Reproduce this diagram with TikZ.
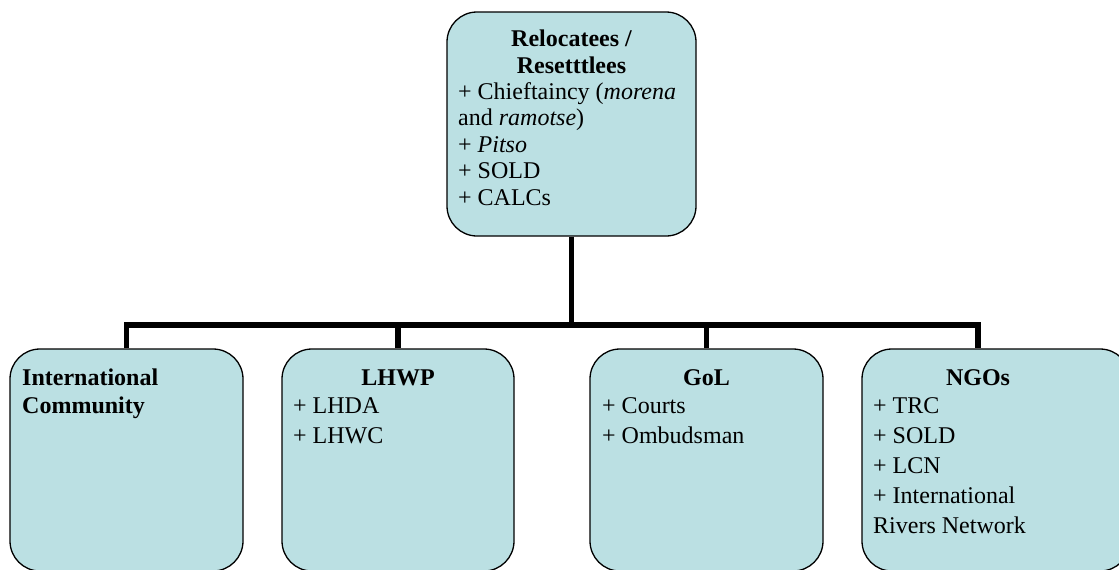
\documentclass[tikz,border=0pt]{standalone}
\usepackage{fontspec}
\setmainfont{Liberation Serif}
\definecolor{boxfill}{RGB}{187,224,227}
\begin{document}
\begin{tikzpicture}[x=1pt,y=-1pt,
  box/.style={rectangle, draw=black, line width=1.3pt, fill=boxfill, rounded corners=30pt, inner sep=0pt},
  conn/.style={line width=5.5pt, line join=miter},
  ttl/.style={font=\fontsize{24}{26.3}\selectfont\bfseries, inner sep=0pt, anchor=base, align=center},
  lst/.style={font=\fontsize{24}{29.8}\selectfont, inner sep=0pt, anchor=base west, align=left}]
\useasboundingbox (0,0) rectangle (1119,570);
\clip (0,0) rectangle (1119,570);
% boxes
\node[box, minimum width=249pt, minimum height=224pt] (top) at (571.5,124) {};
\node[box, minimum width=233pt, minimum height=222pt] (b1) at (126.5,460) {};
\node[box, minimum width=232pt, minimum height=222pt] (b2) at (398,460) {};
\node[box, minimum width=233pt, minimum height=222pt] (b3) at (706.5,460) {};
\node[box, minimum width=268pt, minimum height=222pt] (b4) at (996,460) {};
% texts (multi-line nodes are placed by the baseline of their last line)
\node[ttl] (tt) at (571.5,73) {Relocatees /\\Resetttlees};
\node[lst, font=\fontsize{24}{26.5}\selectfont] (tl) at (458,205)
  {+ Chieftaincy (\textit{morena}\\and \textit{ramotse})\\+ \textit{Pitso}\\+ SOLD\\+ CALCs};
\node[ttl, anchor=base west, align=left, font=\fontsize{24}{28}\selectfont\bfseries] (t1) at (22,413) {International\\Community};
\node[ttl] (t2) at (398,385) {LHWP};
\node[lst] (l2) at (293,443) {+ LHDA\\+ LHWC};
\node[ttl] (t3) at (706.5,385) {GoL};
\node[lst] (l3) at (602,443) {+ Courts\\+ Ombudsman};
\node[ttl] (t4) at (978,385) {NGOs};
\node[lst] (l4) at (873,533) {+ TRC\\+ SOLD\\+ LCN\\+ International\\Rivers Network};
% connectors
\coordinate (bar) at (571.5,325);
\draw[conn] (top.south) -- (bar);
\draw[conn] (b1.north) |- (bar -| t4) -- (b4.north -| t4);
\draw[conn] (b2.north) -- (b2.north |- bar);
\draw[conn] (b3.north) -- (b3.north |- bar);
\end{tikzpicture}
\end{document}
